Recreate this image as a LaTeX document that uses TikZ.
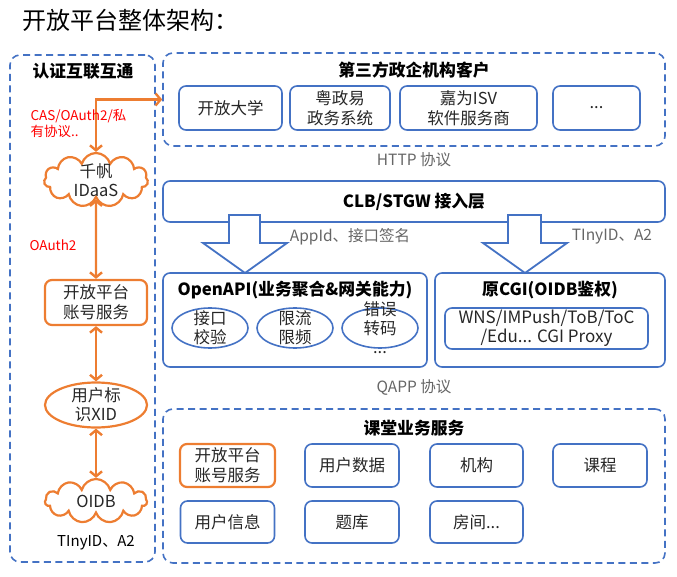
\documentclass[tikz,border=0pt]{standalone}
\usepackage{fontspec}
\setmainfont{Noto Sans CJK SC}
\usetikzlibrary{shapes.geometric,shapes.symbols,arrows.meta}
\definecolor{frameblue}{HTML}{4472C4}
\definecolor{linkorange}{HTML}{ED7D31}
\definecolor{notegray}{HTML}{666666}
\newcommand{\setfs}[2]{\fontsize{#1}{#2}\selectfont}
\begin{document}
\begin{tikzpicture}[x=1pt,y=-1pt,
	group/.style={draw=frameblue, line width=1.6pt, dash pattern=on 7pt off 4.5pt, rounded corners=10pt, inner sep=0pt},
	item/.style={draw=frameblue, line width=1.6pt, rounded corners=7pt, align=center, font=\setfs{16.5}{20}, text=black!85, inner sep=0pt},
	acct/.style={item, draw=linkorange, line width=2.2pt},
	oval/.style={ellipse, draw=frameblue, line width=1.6pt, inner sep=0pt, minimum width=76pt, minimum height=40pt},
	puff/.style={cloud, cloud puffs=11, aspect=2, draw=linkorange, line width=2.2pt, inner sep=0pt},
	inner/.style={align=center, font=\setfs{16.5}{19}, text=black!85},
	head/.style={font=\bfseries\setfs{16.8}{20}},
	note/.style={text=notegray, font=\setfs{15.5}{18}},
	redtext/.style={text=red, font=\setfs{13.5}{16}, align=left},
	link/.style={draw=linkorange, line width=2.4pt, {Straight Barb[length=5pt,width=12pt]}-{Straight Barb[length=5pt,width=12pt]}},
	barrow/.style={draw=frameblue, line width=1.8pt, fill=white, line join=miter}]
	\useasboundingbox (0,0) rectangle (677,577);
	\node[anchor=west, font=\setfs{24}{28}] (title) at (19,20) {开放平台整体架构：};
	% left column
	\node[group, minimum width=145pt, minimum height=507pt] (authzone) at (82.5,308.5) {};
	\node[head] (authhead) at (83,71) {认证互联互通};
	\node[puff, minimum width=104pt, minimum height=54pt, label={[inner]center:千帆\\IDaaS}] (idaas) at (96,180) {};
	\node[acct, minimum width=102pt, minimum height=45pt] (acct) at (96,302.5) {开放平台\\账号服务};
	\node[oval, draw=linkorange, line width=2.2pt, minimum width=102pt, minimum height=45pt, label={[inner]center:用户标\\识XID}] (xid) at (96,405) {};
	\node[puff, minimum width=102pt, minimum height=44pt, label={[inner]center:OIDB}] (oidb) at (96,501) {};
	% clients
	\node[group, minimum width=502pt, minimum height=93pt] (clients) at (414,99.5) {};
	\node[head] (clienthead) at (414,70) {第三方政企机构客户};
	\node[item, minimum width=103pt, minimum height=44pt] (openuni) at (230.5,108) {开放大学};
	\node[item, minimum width=100pt, minimum height=44pt] (yzy) at (340,108) {粤政易\\政务系统};
	\node[item, minimum width=137pt, minimum height=44pt] (isv) at (468.5,108) {嘉为ISV\\软件服务商};
	\node[item, minimum width=87pt, minimum height=44pt] (more) at (596.5,108) {...};
	\node[note] (http) at (414,160) {HTTP 协议};
	% links
	\draw[link] (idaas.north) |- (clients.west);
	\draw[link] (idaas.south) -- (acct.north);
	\draw[link] (acct.south) -- (xid.north);
	\draw[link] (xid.south) -- (oidb.north);
	\node[font=\setfs{15}{18}] (tinyleft) at (96,543) {TInyID、A2};
	\node[redtext, anchor=west] (caslabel) at (27,124) {CAS/OAuth2/私\\有协议..};
	\node[redtext, anchor=west] (oauthlabel) at (26,245) {OAuth2};
	% access layer
	\node[item, minimum width=502pt, minimum height=41pt, font=\bfseries\setfs{16.8}{20}, text=black] (clb) at (414,201.5) {CLB/STGW 接入层};
	\draw[barrow] (229,215) -- (229,243) -- (203,243) -- (245,273) -- (287,243) -- (260,243) -- (260,215) -- cycle;
	\draw[barrow] (508,215) -- (508,243) -- (483,243) -- (525,273) -- (567,243) -- (541,243) -- (541,215) -- cycle;
	\node[note] (appsign) at (350,237) {AppId、接口签名};
	\node[note] (tinyright) at (612,237) {TInyID、A2};
	% gateways
	\node[item, minimum width=264pt, minimum height=94pt] (openapi) at (295,320) {};
	\node[head] (openapihead) at (295,290) {OpenAPI(业务聚合\&网关能力)};
	\node[oval, label={[inner]center:接口\\校验}] (check) at (210,328) {};
	\node[oval, label={[inner]center:限流\\限频}] (limit) at (295,328) {};
	\node[oval, label={[inner]center:错误\\转码\\...}] (errcode) at (380,328) {};
	\node[item, minimum width=230pt, minimum height=94pt] (cgi) at (550,320) {};
	\node[head] (cgihead) at (550,290) {原CGI(OIDB鉴权)};
	\node[item, minimum width=203pt, minimum height=41pt, font=\setfs{17}{19}] (proxy) at (546.5,328.5) {WNS/IMPush/ToB/ToC\\/Edu... CGI Proxy};
	\node[note] (qapp) at (414,387) {QAPP 协议};
	% class services
	\node[group, minimum width=502pt, minimum height=154pt] (classroom) at (414,486) {};
	\node[head] (classhead) at (414,428) {课堂业务服务};
	\node[acct, minimum width=95pt, minimum height=43pt] (acctsvc) at (227.5,465.5) {开放平台\\账号服务};
	\node[item, minimum width=94pt, minimum height=43pt] (userdata) at (352,465.5) {用户数据};
	\node[item, minimum width=93pt, minimum height=43pt] (org) at (476.5,465.5) {机构};
	\node[item, minimum width=94pt, minimum height=43pt] (course) at (600,465.5) {课程};
	\node[item, minimum width=94pt, minimum height=42pt] (userinfo) at (227.5,522) {用户信息};
	\node[item, minimum width=94pt, minimum height=42pt] (quiz) at (352,522) {题库};
	\node[item, minimum width=93pt, minimum height=42pt] (room) at (476.5,522) {房间...};
\end{tikzpicture}
\end{document}
